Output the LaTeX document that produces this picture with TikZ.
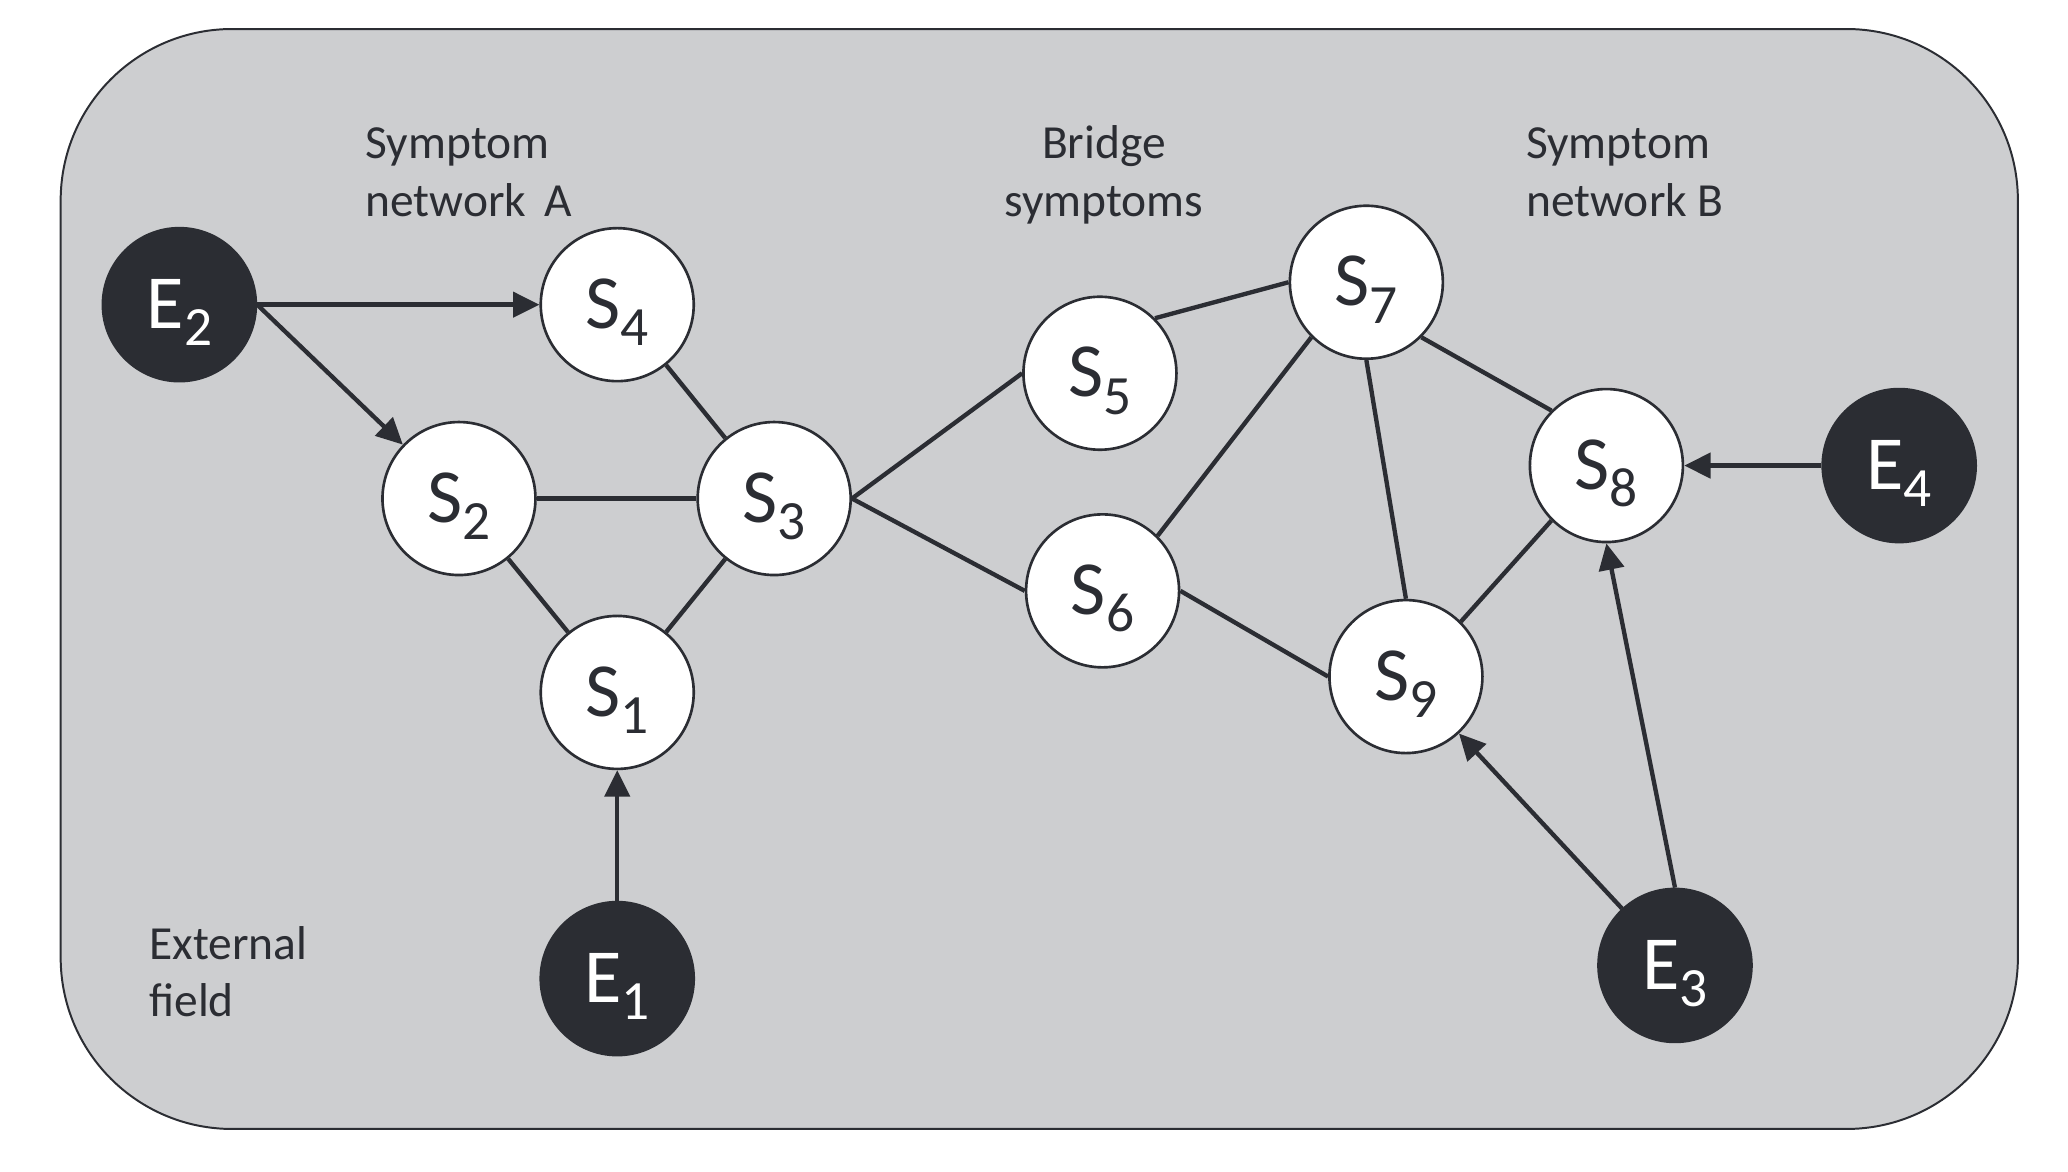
\documentclass[tikz,border=0pt]{standalone}
\usepackage{fontspec}
\setmainfont{Carlito}
\usetikzlibrary{arrows.meta}
\definecolor{ink}{HTML}{2B2D33}
\definecolor{field}{HTML}{CDCED0}
\newcommand{\nlab}[2]{#1\raisebox{-13pt}{\fontsize{42}{42}\selectfont #2}}
\begin{document}
\begin{tikzpicture}[x=1pt,y=-1pt,
  sym/.style={circle,draw=ink,line width=2pt,fill=white,minimum size=116pt,inner sep=0pt,
    text=ink,font=\fontsize{58}{58}\selectfont,text height=43pt,text depth=7pt},
  ext/.style={sym,fill=ink,text=white},
  link/.style={draw=ink,line width=3.3pt},
  arr/.style={link,-{Triangle[length=20pt,width=19pt]}},
  lbl/.style={text=ink,font=\fontsize{36}{43.5}\selectfont,inner sep=0pt,anchor=base west,align=left}]
\useasboundingbox (0,0) rectangle (1568,888);
\draw[ink,line width=1.5pt,fill=field,rounded corners=130pt] (46,22) rectangle (1530,856);

\node[lbl] (la) at (277,164) {Symptom\\network\hspace{14pt}A};
\node[lbl,align=center,anchor=base] (lb) at (837,164) {Bridge\\symptoms};
\node[lbl] (lc) at (1157,164) {Symptom\\network B};
\node[lbl] (ld) at (113,771) {External\\field};

\node[ext] (E2) at (136,231) {\nlab{E}{2}};
\node[sym] (S4) at (468,231) {\nlab{S}{4}};
\node[sym] (S2) at (348,378) {\nlab{S}{2}};
\node[sym] (S3) at (587,378) {\nlab{S}{3}};
\node[sym] (S1) at (468,525) {\nlab{S}{1}};
\node[ext] (E1) at (468,742) {\nlab{E}{1}};
\node[sym] (S5) at (834,283) {\nlab{S}{5}};
\node[sym] (S6) at (836,448) {\nlab{S}{6}};
\node[sym] (S7) at (1036,214) {\nlab{S}{7}};
\node[sym] (S8) at (1218,353) {\nlab{S}{8}};
\node[sym] (S9) at (1066,513) {\nlab{S}{9}};
\node[ext] (E4) at (1440,353) {\nlab{E}{4}};
\node[ext] (E3) at (1270,732) {\nlab{E}{3}};

\draw[link] (S4) -- (S3);
\draw[link] (S2) -- (S3);
\draw[link] (S2) -- (S1);
\draw[link] (S1) -- (S3);
\draw[link] (S3.east) -- (S5.west);
\draw[link] (S3.east) -- (S6.west);
\draw[link] (S5.north east) -- (S7.west);
\draw[link] (S6.north east) -- (S7.south west);
\draw[link] (S7.south) -- (S9.north);
\draw[link] (S7.south east) -- (S8.north west);
\draw[link] (S6.east) -- (S9.west);
\draw[link] (S9.north east) -- (S8.south west);

\draw[arr] (E2.east) -- (S4.west);
\draw[arr] (E2.east) -- (S2);
\draw[arr] (E1) -- (S1);
\draw[arr] (E3) -- (S9);
\draw[arr] (E3.north) -- (S8.south);
\draw[arr] (E4) -- (S8);
\end{tikzpicture}
\end{document}
